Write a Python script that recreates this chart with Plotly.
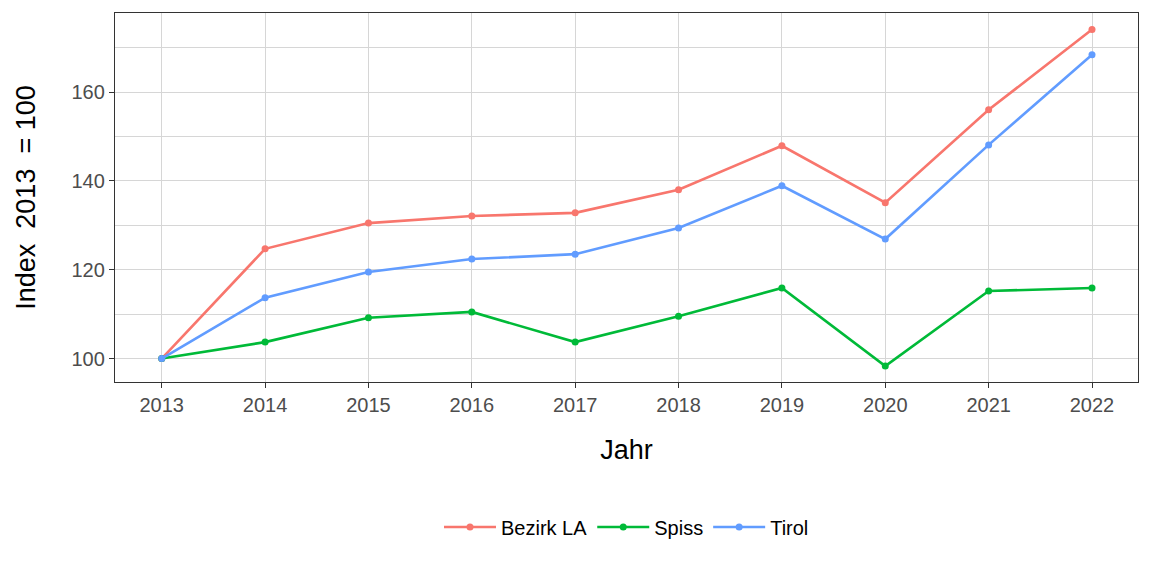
import plotly.graph_objects as go

years = [2013, 2014, 2015, 2016, 2017, 2018, 2019, 2020, 2021, 2022]
bezirk_la = [100, 124.7, 130.5, 132.1, 132.8, 138.0, 147.9, 135.1, 156.0, 174.1]
spiss = [100, 103.7, 109.2, 110.5, 103.7, 109.5, 115.9, 98.3, 115.2, 115.9]
tirol = [100, 113.7, 119.5, 122.4, 123.5, 129.4, 138.9, 126.9, 148.1, 168.4]

series = [
    ("Bezirk LA", bezirk_la, "#F8766D"),
    ("Spiss", spiss, "#00BA38"),
    ("Tirol", tirol, "#619CFF"),
]

fig = go.Figure()
for name, vals, col in series:
    fig.add_trace(go.Scatter(
        x=years, y=vals, name=name, mode="lines+markers",
        line=dict(color=col, width=2.6),
        marker=dict(color=col, size=7),
    ))

axis_common = dict(
    showline=True, linecolor="#333333", linewidth=1.3, mirror=True,
    ticks="outside", ticklen=5, tickcolor="#333333", tickwidth=1.2,
    gridcolor="#d6d6d6", gridwidth=1, zeroline=False,
    tickfont=dict(family="Liberation Sans, Arial", size=20, color="#4d4d4d"),
)

fig.update_layout(
    width=1152, height=576,
    margin=dict(l=115, r=14, t=13, b=194),
    paper_bgcolor="white", plot_bgcolor="white",
    font=dict(family="Liberation Sans, Arial", color="black"),
    legend=dict(orientation="h", x=0.5, xanchor="center", y=-0.393, yanchor="middle",
                font=dict(size=20, color="black"), itemwidth=52),
    showlegend=True,
)
fig.update_xaxes(
    range=[2012.548, 2022.445], tickmode="array", tickvals=years,
    ticktext=[str(y) for y in years],
    title=dict(text="Jahr", font=dict(size=27, color="black"), standoff=24),
    **axis_common,
)
fig.update_yaxes(
    range=[94.72, 177.8], tickmode="array", tickvals=[100, 120, 140, 160],
    minor=dict(tickvals=[110, 130, 150, 170], showgrid=True, gridcolor="#d6d6d6", gridwidth=1, ticks=""),
    title=dict(text="Index  2013  = 100", font=dict(size=27, color="black"), standoff=28),
    **axis_common,
)

fig.write_html("out.html", config={"displayModeBar": False},
               post_script="document.body.style.margin='0';")
